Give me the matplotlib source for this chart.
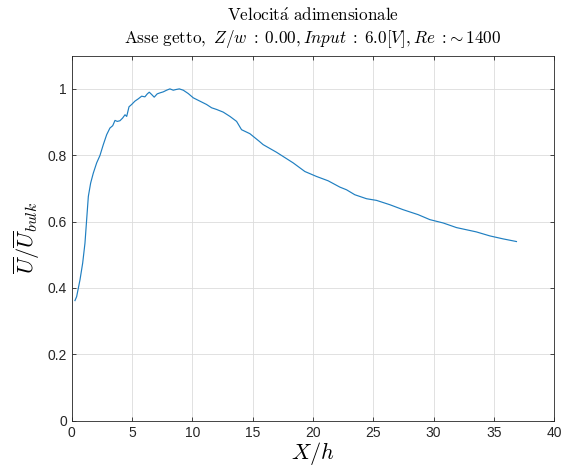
import numpy as np
import matplotlib.pyplot as plt

plt.rcParams['mathtext.fontset'] = 'cm'
plt.rcParams['font.family'] = ['Liberation Sans', 'DejaVu Sans']

# X/h and U/U_bulk
x_h = [0.27, 0.41, 0.69, 0.91, 1.10, 1.24, 1.38, 1.57, 1.79, 2.07, 2.34, 2.62, 2.90,
       3.17, 3.40, 3.59, 3.78, 4.00, 4.22, 4.42, 4.56, 4.75, 4.97, 5.24, 5.52, 5.80,
       6.07, 6.27, 6.43, 6.63, 6.84, 7.09, 7.32, 7.59, 7.87, 8.14, 8.42, 8.64, 8.92,
       9.25, 9.66, 10.08, 10.63, 11.18, 11.60, 12.01, 12.56, 13.12, 13.67, 14.08,
       14.77, 15.55, 15.87, 16.98, 18.36, 19.33, 20.30, 21.26, 22.23, 22.78, 23.47,
       24.44, 25.27, 26.37, 27.47, 28.72, 29.69, 30.79, 31.90, 33.55, 34.66, 35.76,
       36.87]
u_ratio = [0.362, 0.374, 0.425, 0.475, 0.535, 0.606, 0.676, 0.716, 0.746, 0.777, 0.799,
           0.832, 0.862, 0.882, 0.889, 0.905, 0.902, 0.904, 0.912, 0.922, 0.917, 0.946,
           0.953, 0.963, 0.970, 0.978, 0.976, 0.985, 0.990, 0.983, 0.975, 0.985, 0.988,
           0.991, 0.996, 1.000, 0.996, 0.998, 1.000, 0.996, 0.986, 0.973, 0.963, 0.953,
           0.943, 0.938, 0.930, 0.917, 0.902, 0.877, 0.865, 0.842, 0.832, 0.809, 0.777,
           0.751, 0.736, 0.723, 0.704, 0.696, 0.681, 0.669, 0.664, 0.651, 0.636, 0.621,
           0.606, 0.596, 0.582, 0.569, 0.557, 0.548, 0.540]

xticks = [0, 5, 10, 15, 20, 25, 30, 35, 40]
yticks = [0, 0.2, 0.4, 0.6, 0.8, 1]
ytick_labels = ['0', '0.2', '0.4', '0.6', '0.8', '1']

fig = plt.figure(figsize=(5.69, 4.68), dpi=100)
ax = fig.add_axes([0.126, 0.101, 0.848, 0.780])

ax.plot(x_h, u_ratio, color='#1f7fc1', linewidth=0.85)

ax.set_xlim(0, 40)
ax.set_ylim(0, 1.1)
ax.set_xticks(xticks)
ax.set_yticks(yticks)
ax.set_yticklabels(ytick_labels)
ax.tick_params(direction='in', length=3, width=0.6, colors='#262626',
               labelsize=10, top=True, right=True)
ax.grid(True, color='#dcdcdc', linewidth=0.6)
for s in ax.spines.values():
    s.set_color('#262626')
    s.set_linewidth(0.6)

ax.set_title('$\\mathrm{Velocit\\acute{a}\\ adimensionale}$\n'
             '$\\mathrm{Asse\\ getto,}\\ Z/w \\;:\\; 0.00, Input \\;:\\; 6.0[V], Re \\;:\\!\\sim 1400$',
             fontsize=12.3, pad=9, linespacing=1.25)
ax.set_xlabel('$X/h$', fontsize=16, labelpad=0)
ax.set_ylabel('$\\overline{U}/\\overline{U}_{bulk}$', fontsize=16, labelpad=4)

fig.savefig('out.png', dpi=100)
